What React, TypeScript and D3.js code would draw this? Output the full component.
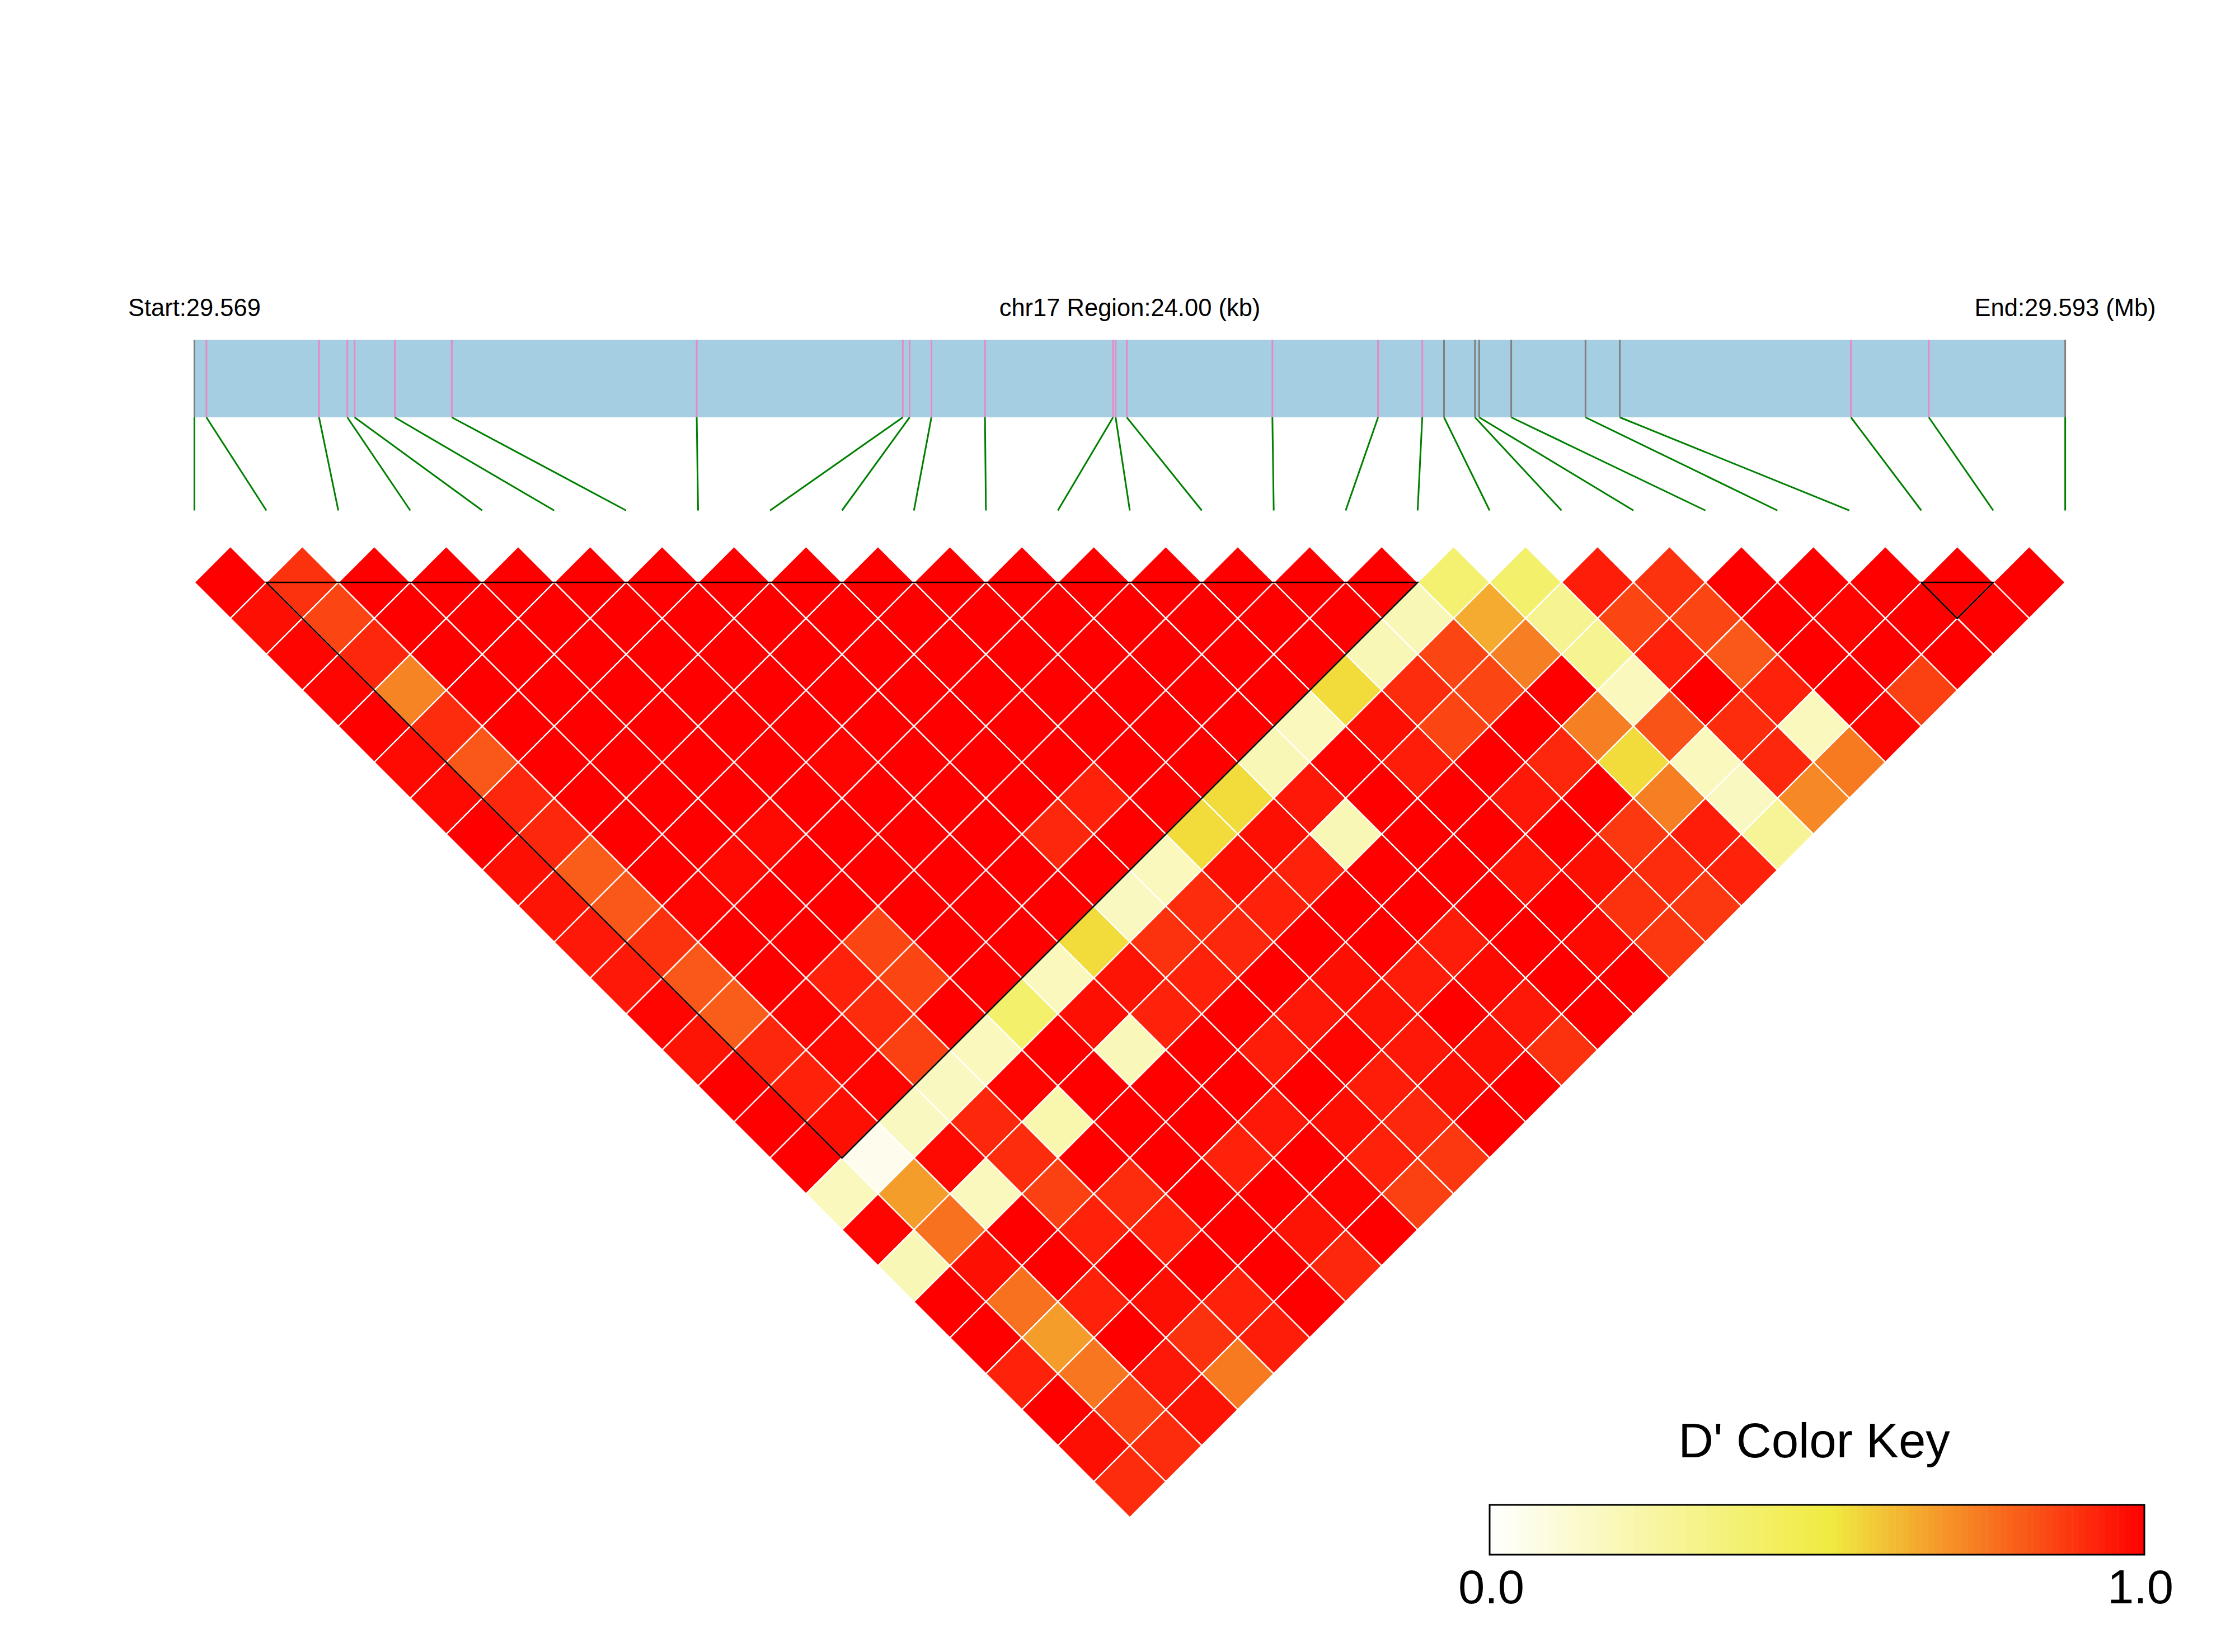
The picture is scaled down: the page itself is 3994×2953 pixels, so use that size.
import React from 'react';
import * as d3 from 'd3';

// SNP positions in kb from the region start
const snpPositions = [
  0, 0.154, 1.599, 1.962, 2.055, 2.571, 3.302, 6.444, 9.088, 9.175, 9.455, 10.142, 11.785, 11.818,
  11.961, 13.829, 15.185, 15.752, 16.031, 16.428, 16.482, 16.893, 17.846, 18.286, 21.251, 22.25, 24,
];
const greySnps = [0, 18, 19, 20, 21, 22, 23, 26];
const blocks = [[1, 17], [24, 25]];

// D' values, one list per row of the triangle, top row first
const row0 = [1, .9, 1, 1, 1, 1, 1, 1, 1, 1, 1, 1, 1, 1, 1, 1, 1, .39, .4, .94, .9, 1, 1, 1, 1, 1];
const row1 = [.97, .86, 1, 1, 1, 1, 1, 1, 1, 1, 1, 1, 1, 1, 1, 1, .2, .65, .3, .86, .86, 1, .99, 1, 1];
const row2 = [.99, .92, 1, 1, 1, 1, 1, 1, 1, 1, 1, 1, 1, 1, 1, .2, .86, .74, .3, .93, .82, 1, 1, 1];
const row3 = [.99, .73, 1, 1, 1, 1, 1, 1, 1, 1, 1, 1, 1, 1, .55, .91, .86, 1, .18, 1, .93, 1, .87];
const row4 = [1, .91, 1, 1, 1, 1, 1, 1, 1, 1, 1, 1, 1, .18, .97, .86, 1, .74, .83, .91, .18, .99];
const row5 = [.98, .82, 1, 1, 1, 1, .99, 1, 1, 1, 1, 1, .2, .99, .94, 1, .92, .55, .18, .92, .75];
const row6 = [.98, .92, 1, 1, 1, 1, 1, 1, 1, .93, 1, .55, .95, 1, 1, .95, 1, .74, .17, .72];
const row7 = [1, .92, 1, 1, .98, 1, 1, 1, .92, 1, .55, .97, .2, 1, 1, 1, .885, .94, .28];
const row8 = [.97, .81, 1, .98, 1, 1, 1, 1, 1, .18, .97, .93, 1, 1, .96, .97, .91, .93];
const row9 = [.96, .82, .99, 1, 1, 1, 1, 1, .17, .91, .93, 1, 1, 1, 1, .9, .885];
const row10 = [.95, .9, 1, 1, .86, 1, 1, .55, .9, .92, 1, 1, .94, 1, .98, .885];
const row11 = [.95, .82, 1, .93, .86, 1, .18, .96, .93, 1, .97, .94, .98, 1, 1];
const row12 = [.99, .81, .99, .91, 1, .4, .97, .93, 1, .95, .96, 1, .95, 1];
const row13 = [.96, .92, .98, .87, .18, 1, .19, 1, .94, .99, .95, .97, .9];
const row14 = [1, .93, .99, .17, .99, 1, 1, 1, 1, .94, .97, 1];
const row15 = [1, .97, .17, .92, .22, 1, 1, .95, .97, .92, 1];
const row16 = [1, .05, .98, .91, 1, 1, .93, 1, .93, .885];
const row17 = [.18, .68, .18, .87, .91, 1, 1, .99, .87];
const row18 = [.99, .77, 1, .93, .93, 1, .96, 1];
const row19 = [.2, .97, 1, 1, 1, 1, .92];
const row20 = [1, .77, .93, .97, .93, 1];
const row21 = [1, .68, 1, .9, .94];
const row22 = [.93, .76, .95, .75];
const row23 = [1, .86, .96];
const row24 = [.97, .91];
const row25 = [.91];
const rows = [
  row0, row1, row2, row3, row4, row5, row6, row7, row8, row9, row10, row11, row12,
  row13, row14, row15, row16, row17, row18, row19, row20, row21, row22, row23, row24, row25,
];

const keySteps = d3.range(100).map(d => d / 100);

const width = 3994;
const height = 2953;
const left = 347.4;
const right = 3690.6;
const rowTop = 1041;
const rowStep = 64.3;
const barTop = 607.6;
const barBottom = 746;
const linkBottom = 912.5;

const xGene = d3.scaleLinear().domain([0, 24]).range([left, right]);
const xSnp = d3.scaleLinear().domain([0, 26]).range([left, right]);
const yRow = d3.scaleLinear().domain([0, 25]).range([rowTop, rowTop + 25 * rowStep]);
const color = d3.scaleLinear<string>()
  .domain([0, 0.52, 1])
  .range(['#ffffff', '#f0eb40', '#ff0000']);
const xKey = d3.scaleLinear().domain([0, 1]).range([2662, 3832]);

const line = d3.line();

export default function App() {
  const halfW = (xSnp(1) - xSnp(0)) / 2;
  const font = '"Liberation Sans", Arial, sans-serif';

  return (
    <svg
      width={width}
      height={height}
      style={{ position: 'absolute', left: 0, top: 0, display: 'block', background: '#fff' }}
      fontFamily={font}
    >
      <text x={left} y={565} fontSize={43.5} textAnchor="middle">Start:29.569</text>
      <text x={xSnp(13)} y={565} fontSize={43.5} textAnchor="middle">chr17 Region:24.00 (kb)</text>
      <text x={right} y={565} fontSize={43.5} textAnchor="middle">End:29.593 (Mb)</text>

      <rect x={left} y={barTop} width={right - left} height={barBottom - barTop} fill="#a6cee3" />
      {snpPositions.map((d, i) => (
        <g key={i}>
          <line
            x1={xGene(d)} x2={xGene(d)} y1={barTop} y2={barBottom}
            stroke={greySnps.includes(i) ? '#808080' : '#e78ac3'}
            strokeWidth={3}
          />
          <line
            x1={xGene(d)} x2={xSnp(i)} y1={barBottom} y2={linkBottom}
            stroke="#008000"
            strokeWidth={3}
          />
        </g>
      ))}

      {rows.map((values, r) => values.map((v, i) => {
        const cx = xSnp(i + (r + 1) / 2);
        const cy = yRow(r);
        const d = line([[cx - halfW, cy], [cx, cy - halfW], [cx + halfW, cy], [cx, cy + halfW]]) + 'Z';
        return <path key={`${r}-${i}`} d={d} fill={color(v)} stroke="#fff" strokeWidth={2.4} />;
      }))}

      {blocks.map(([a, b]) => {
        const d = line([
          [xSnp(a), rowTop],
          [xSnp(b), rowTop],
          [xSnp((a + b) / 2), yRow(b - a)],
        ]) + 'Z';
        return <path key={a} d={d} fill="none" stroke="#000" strokeWidth={2.6} />;
      })}

      <text x={3242} y={2605} fontSize={87} textAnchor="middle">D' Color Key</text>
      {keySteps.map(d => (
        <rect
          key={d}
          x={xKey(d)}
          y={2690}
          width={xKey(0.01) - xKey(0) + 0.5}
          height={89}
          fill={color(d + 0.005)}
        />
      ))}
      <rect x={xKey(0)} y={2690} width={xKey(1) - xKey(0)} height={89} fill="none" stroke="#000" strokeWidth={3} />
      <text x={xKey(0) + 3} y={2866} fontSize={85} textAnchor="middle">0.0</text>
      <text x={xKey(1) - 7} y={2866} fontSize={85} textAnchor="middle">1.0</text>
    </svg>
  );
}
